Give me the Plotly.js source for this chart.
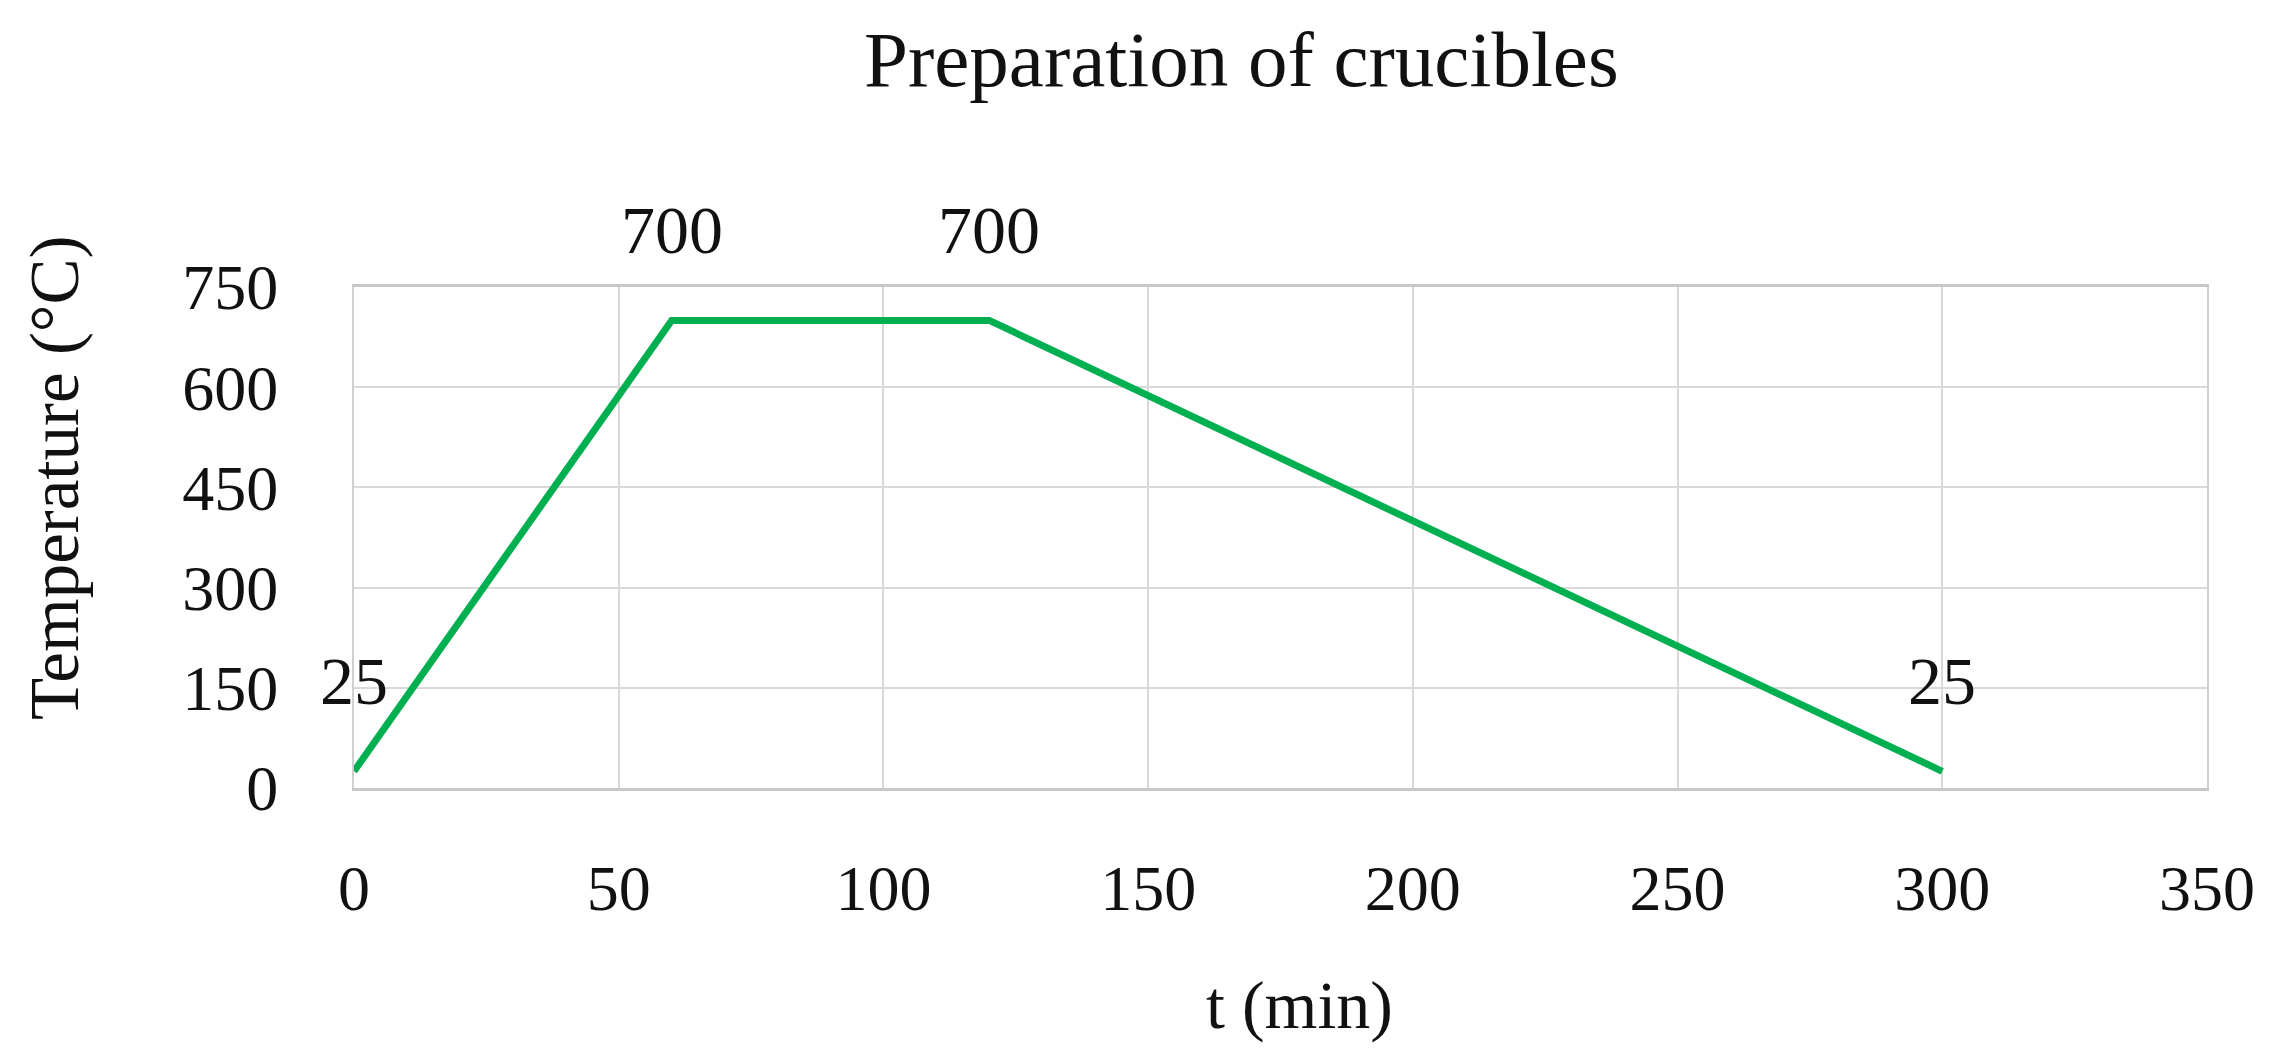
<!DOCTYPE html>
<html>
<head>
<meta charset="utf-8">
<script src="https://cdn.plot.ly/plotly-3.0.1.min.js"></script>
<style>
  html, body { margin: 0; padding: 0; background: #fff; }
  #grafico { width: 2284px; height: 1055px; }
</style>
</head>
<body>
<div id="grafico"></div>
<script>
// heating profile for the crucibles
var tiempo = [0, 60, 120, 300];
var temperatura = [25, 700, 700, 25];
var etiquetas = ['25', '700', '700', '25'];
var ticksX = [0, 50, 100, 150, 200, 250, 300, 350];
var ticksY = [0, 150, 300, 450, 600, 750];

window.onload = function() {
    var fuente = 'Liberation Serif, Times New Roman, serif';

    var data = [{
        x: tiempo,
        y: temperatura,
        type: 'scatter',
        mode: 'lines',
        line: { color: '#00b050', width: 7 },
        hoverinfo: 'skip',
        showlegend: false
    }];

    var notas = tiempo.map(function(t, i) {
        return {
            x: t,
            y: temperatura[i],
            text: etiquetas[i],
            showarrow: false,
            yshift: 90,
            font: { family: fuente, size: 68, color: '#111' }
        };
    });

    // axis titles placed as annotations so they sit like in the original
    notas.push({
        xref: 'paper', yref: 'paper',
        x: (55 - 354) / 1853, y: (1055 - 478 - 267) / 501,
        text: 'Temperature (°C)',
        textangle: -90,
        showarrow: false,
        xanchor: 'center', yanchor: 'middle',
        font: { family: fuente, size: 69, color: '#111' }
    });
    notas.push({
        xref: 'paper', yref: 'paper',
        x: (1299 - 354) / 1853, y: (1055 - 1005 - 267) / 501,
        text: 't (min)',
        showarrow: false,
        xanchor: 'center', yanchor: 'middle',
        font: { family: fuente, size: 68, color: '#111' }
    });

    var layout = {
        width: 2284,
        height: 1055,
        paper_bgcolor: '#fff',
        plot_bgcolor: '#fff',
        margin: { l: 354, r: 77, t: 287, b: 267 },
        title: {
            text: 'Preparation of crucibles',
            font: { family: fuente, size: 79, color: '#111' },
            xref: 'container',
            x: 0.5435,
            xanchor: 'center',
            y: 0.945,
            yanchor: 'middle'
        },
        xaxis: {
            range: [0, 350],
            tickvals: ticksX,
            ticktext: ticksX.map(String),
            showgrid: true,
            gridcolor: '#d9d9d9',
            gridwidth: 2,
            zeroline: false,
            showline: true,
            linecolor: '#c8c8c8',
            linewidth: 3,
            mirror: true,
            ticks: '',
            ticklabelstandoff: 42,
            tickfont: { family: fuente, size: 64, color: '#111' }
        },
        yaxis: {
            range: [0, 750],
            tickvals: ticksY,
            ticktext: ticksY.map(String),
            showgrid: true,
            gridcolor: '#d9d9d9',
            gridwidth: 2,
            zeroline: false,
            showline: true,
            linecolor: '#d0d0d0',
            linewidth: 2,
            mirror: true,
            ticks: '',
            ticklabelstandoff: 61,
            tickfont: { family: fuente, size: 64, color: '#111' }
        },
        annotations: notas
    };

    Plotly.newPlot('grafico', data, layout, { staticPlot: true, displayModeBar: false });
};
</script>
</body>
</html>
